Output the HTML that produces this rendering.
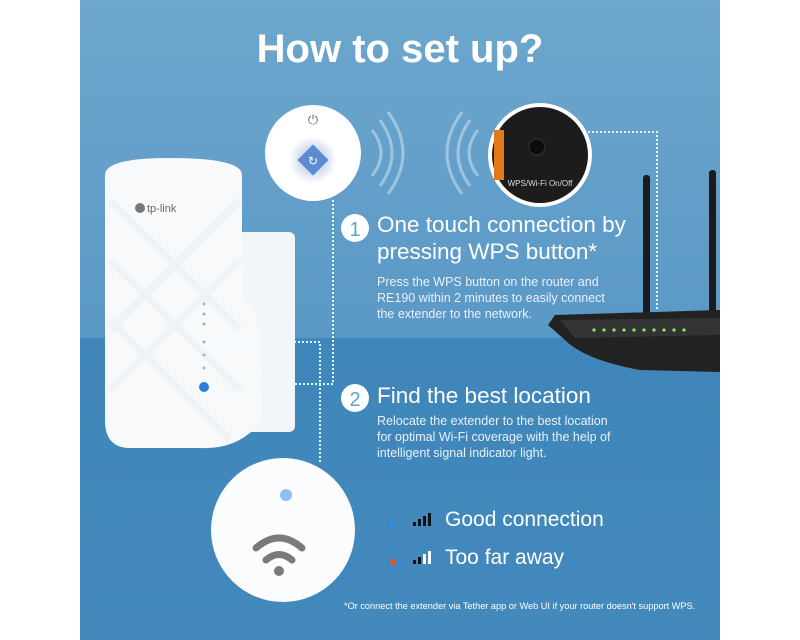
<!DOCTYPE html>
<html><head><style>
body{margin:0;width:800px;height:640px;background:#fff;position:relative;overflow:hidden;font-family:"Liberation Sans",sans-serif}
.a{position:absolute}
</style></head><body>
<div class="a" style="left:80px;top:0;width:640px;height:338px;background:linear-gradient(#6da7cd,#5a98c6)"></div>
<div class="a" style="left:80px;top:338px;width:640px;height:302px;background:linear-gradient(#3f86ba,#4389bc)"></div>
<div class="a" style="left:80px;top:27px;width:640px;text-align:center;color:#fff;font-weight:bold;font-size:40px">How to set up?</div>

<svg class="a" style="left:0;top:0" width="800" height="640">
 <defs>
  <radialGradient id="g1" cx="0.5" cy="0.5" r="0.5"><stop offset="0" stop-color="#aab8e0"/><stop offset="1" stop-color="#fff"/></radialGradient>
 </defs>
 <rect x="238" y="232" width="57" height="200" rx="6" fill="#f3f6f9"/>
 <path d="M105 175 Q105 158 170 158 Q242 158 242 175 L242 300 Q262 310 262 370 L262 420 Q240 450 200 448 L130 448 Q105 448 105 420 Z" fill="#f7f9fb"/>
 <g stroke="#edf1f5" stroke-width="8" opacity="0.7">
  <line x1="110" y1="200" x2="240" y2="330"/><line x1="110" y1="260" x2="240" y2="390"/><line x1="110" y1="320" x2="230" y2="440"/>
  <line x1="240" y1="200" x2="110" y2="330"/><line x1="240" y1="260" x2="110" y2="390"/>
 </g>
 <text x="147" y="212" font-size="11" fill="#666" font-family="Liberation Sans">tp-link</text>
 <circle cx="140" cy="208" r="5" fill="#777"/>
 <circle cx="204" cy="387" r="5" fill="#2a7fdc"/>
 <g fill="#9bb"><circle cx="204" cy="304" r="1.5"/><circle cx="204" cy="314" r="1.5"/><circle cx="204" cy="324" r="1.5"/><circle cx="204" cy="342" r="1.5"/><circle cx="204" cy="355" r="1.5"/><circle cx="204" cy="368" r="1.5"/></g>
 <g stroke="#dff" stroke-width="2" stroke-dasharray="2 2" fill="none">
  <polyline points="333,200 333,384 212,384"/>
  <polyline points="210,342 320,342 320,462"/>
  <polyline points="588,132 657,132 657,310"/>
 </g>
 <circle cx="313" cy="153" r="48" fill="#fff"/>
 <circle cx="313" cy="160" r="24" fill="url(#g1)"/>
 <rect x="302" y="149" width="22" height="22" fill="#5c8bd0" transform="rotate(45 313 160)"/>
 <text x="313" y="165" font-size="12" fill="#fff" text-anchor="middle">↻</text>
 <text x="313" y="124" font-size="13" fill="#666" text-anchor="middle">⏻</text>
 <g stroke="#cfe2f0" stroke-width="3" fill="none" opacity="0.55">
  <path d="M372 130 Q390 153 372 176"/><path d="M380 120 Q404 153 380 186"/><path d="M388 112 Q418 153 388 194"/>
  <path d="M478 130 Q460 153 478 176"/><path d="M470 120 Q446 153 470 186"/><path d="M462 112 Q432 153 462 194"/>
 </g>
 <circle cx="540" cy="155" r="52" fill="#fff"/>
 <circle cx="540" cy="155" r="48" fill="#1c1c1c"/>
 <path d="M494 130 L504 130 L504 180 L494 180 Z" fill="#e07a18"/>
 <circle cx="537" cy="147" r="8" fill="#0c0c0c" stroke="#333"/>
 <text x="540" y="186" font-size="8" fill="#ddd" text-anchor="middle">WPS/Wi-Fi On/Off</text>
 <rect x="643" y="175" width="7" height="160" rx="3" fill="#1b1b1b"/>
 <rect x="709" y="170" width="7" height="170" rx="3" fill="#1b1b1b"/>
 <path d="M555 315 L720 310 L720 372 L640 370 Q585 360 565 340 L548 325 Z" fill="#222"/>
 <path d="M560 320 L720 318 L720 335 L575 338 Z" fill="#333"/>
 <g fill="#8e6"><circle cx="594" cy="330" r="1.6"/><circle cx="604" cy="330" r="1.6"/><circle cx="614" cy="330" r="1.6"/><circle cx="624" cy="330" r="1.6"/><circle cx="634" cy="330" r="1.6"/><circle cx="644" cy="330" r="1.6"/><circle cx="654" cy="330" r="1.6"/><circle cx="664" cy="330" r="1.6"/><circle cx="674" cy="330" r="1.6"/><circle cx="684" cy="330" r="1.6"/></g>
 <circle cx="283" cy="530" r="72" fill="#fbfcfd"/>
 <circle cx="286" cy="495" r="6" fill="#8cc0f5"/>
 <g stroke="#7a7a7a" stroke-width="7" fill="none" stroke-linecap="round"><path d="M256 548 Q279 528 302 548"/><path d="M266 560 Q279 549 292 560"/></g>
 <circle cx="279" cy="571" r="5" fill="#7a7a7a"/>
 <circle cx="355" cy="228" r="14" fill="#fff"/><text x="355" y="236" font-size="20" fill="#5aa3cc" text-anchor="middle">1</text>
 <circle cx="355" cy="398" r="14" fill="#fff"/><text x="355" y="406" font-size="20" fill="#5aa3cc" text-anchor="middle">2</text>
 <circle cx="393" cy="523" r="3" fill="#2c8fe8"/>
 <circle cx="393" cy="562" r="3" fill="#e8542c"/>
 <g fill="#111"><rect x="413" y="522" width="3" height="4"/><rect x="418" y="519" width="3" height="7"/><rect x="423" y="516" width="3" height="10"/><rect x="428" y="513" width="3" height="13"/></g>
 <g fill="#111"><rect x="413" y="560" width="3" height="4"/><rect x="418" y="557" width="3" height="7"/></g>
 <g fill="#fff"><rect x="423" y="554" width="3" height="10"/><rect x="428" y="551" width="3" height="13"/></g>
</svg>

<div class="a" style="left:377px;top:211px;color:#fff;font-size:22.5px;line-height:27px">One touch connection by<br>pressing WPS button*</div>
<div class="a" style="left:377px;top:274px;color:#e8f1f8;font-size:12.5px;line-height:16px">Press the WPS button on the router and<br>RE190 within 2 minutes to easily connect<br>the extender to the network.</div>
<div class="a" style="left:377px;top:382px;color:#fff;font-size:22.5px;line-height:27px">Find the best location</div>
<div class="a" style="left:377px;top:413px;color:#e8f1f8;font-size:12.5px;line-height:16px">Relocate the extender to the best location<br>for optimal Wi-Fi coverage with the help of<br>intelligent signal indicator light.</div>
<div class="a" style="left:445px;top:508px;color:#fff;font-size:21px">Good connection</div>
<div class="a" style="left:445px;top:546px;color:#fff;font-size:21px">Too far away</div>
<div class="a" style="left:344px;top:601px;color:#fff;font-size:9.2px">*Or connect the extender via Tether app or Web UI if your router doesn't support WPS.</div>
</body></html>
